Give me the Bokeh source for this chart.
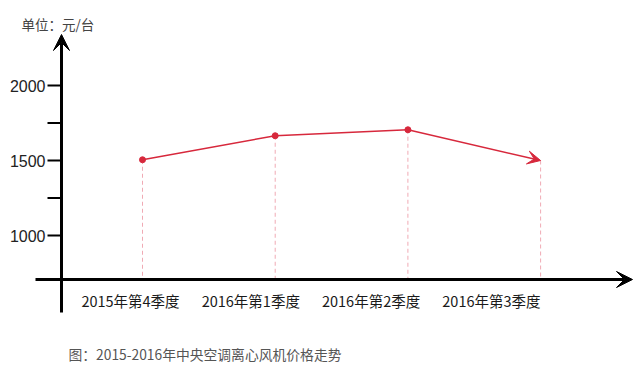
from bokeh.plotting import figure
from bokeh.models import Range1d, Arrow, VeeHead
from bokeh.core.properties import value
from bokeh.embed import file_html
from bokeh.resources import INLINE

# ---- data ----
categories = ["2015年第4季度", "2016年第1季度", "2016年第2季度", "2016年第3季度"]
prices = [1505, 1665, 1705, 1500]
tick_values = [1000, 1250, 1500, 1750, 2000]
tick_labels = ["1000", "", "1500", "", "2000"]
unit_text = "单位：元/台"
caption = "图：2015-2016年中央空调离心风机价格走势"

W, H = 640, 372
# pixel layout helpers (x: category index, y: price)
X0_PX, DX_PX = 142.0, 132.7
Y2000_PX, PX_PER_UNIT = 85.0, 0.15

def px_x(px):
    return (px - X0_PX) / DX_PX

def px_y(py):
    return 2000 - (py - Y2000_PX) / PX_PER_UNIT

p = figure(width=W, height=H, output_backend="svg", toolbar_location=None,
           x_range=Range1d(px_x(0), px_x(W)), y_range=Range1d(px_y(H), px_y(0)),
           min_border=0)
p.axis.visible = False
p.grid.visible = False
p.outline_line_color = None
p.background_fill_color = "white"
p.border_fill_color = "white"

xs = list(range(len(categories)))
axis_y = px_y(279)
axis_x = px_x(61)

# dashed drop lines
p.segment(x0=xs, y0=prices, x1=xs, y1=[axis_y] * len(xs),
          line_color="#f0aab4", line_width=1, line_dash="4 3")

# axes with arrows
p.add_layout(Arrow(end=VeeHead(size=16, fill_color="black", line_color="black"),
                   x_start=px_x(35), y_start=axis_y, x_end=px_x(632), y_end=axis_y,
                   line_width=3, line_color="black"))
p.add_layout(Arrow(end=VeeHead(size=16, fill_color="black", line_color="black"),
                   x_start=axis_x, y_start=px_y(312), x_end=axis_x, y_end=px_y(34),
                   line_width=3, line_color="black"))

# y ticks
p.segment(x0=[px_x(47)] * len(tick_values), y0=tick_values,
          x1=[axis_x] * len(tick_values), y1=tick_values,
          line_color="black", line_width=2)
p.text(x=[px_x(45)] * len(tick_values), y=tick_values, text=tick_labels,
       text_align="right", text_baseline="middle", text_font=value("Liberation Sans"),
       text_font_size="16px", text_color="#222222")

# price line
red = "#d7283c"
p.line(x=xs[:-1], y=prices[:-1], line_color=red, line_width=1.5)
p.add_layout(Arrow(end=VeeHead(size=13, fill_color=red, line_color=red),
                   x_start=xs[-2], y_start=prices[-2], x_end=xs[-1], y_end=prices[-1],
                   line_width=1.5, line_color=red))
p.scatter(x=xs[:-1], y=prices[:-1], size=6, color=red)

# category labels
label_x = [px_x(130 + 120.3 * i) for i in xs]
p.text(x=label_x, y=[px_y(300)] * len(xs), text=categories,
       text_align="center", text_baseline="middle",
       text_font=value("Noto Sans CJK SC"), text_font_size="14.5px", text_color="#1a1a1a")

# unit & caption
p.text(x=[px_x(21)], y=[px_y(23)], text=[unit_text], text_align="left",
       text_baseline="middle", text_font=value("Noto Sans CJK SC"),
       text_font_size="13.5px", text_color="#444444")
p.text(x=[px_x(68)], y=[px_y(353)], text=[caption], text_align="left",
       text_baseline="middle", text_font=value("Noto Sans CJK SC"),
       text_font_size="13.8px", text_color="#555555")

open("out.html", "w").write(file_html(p, INLINE))
